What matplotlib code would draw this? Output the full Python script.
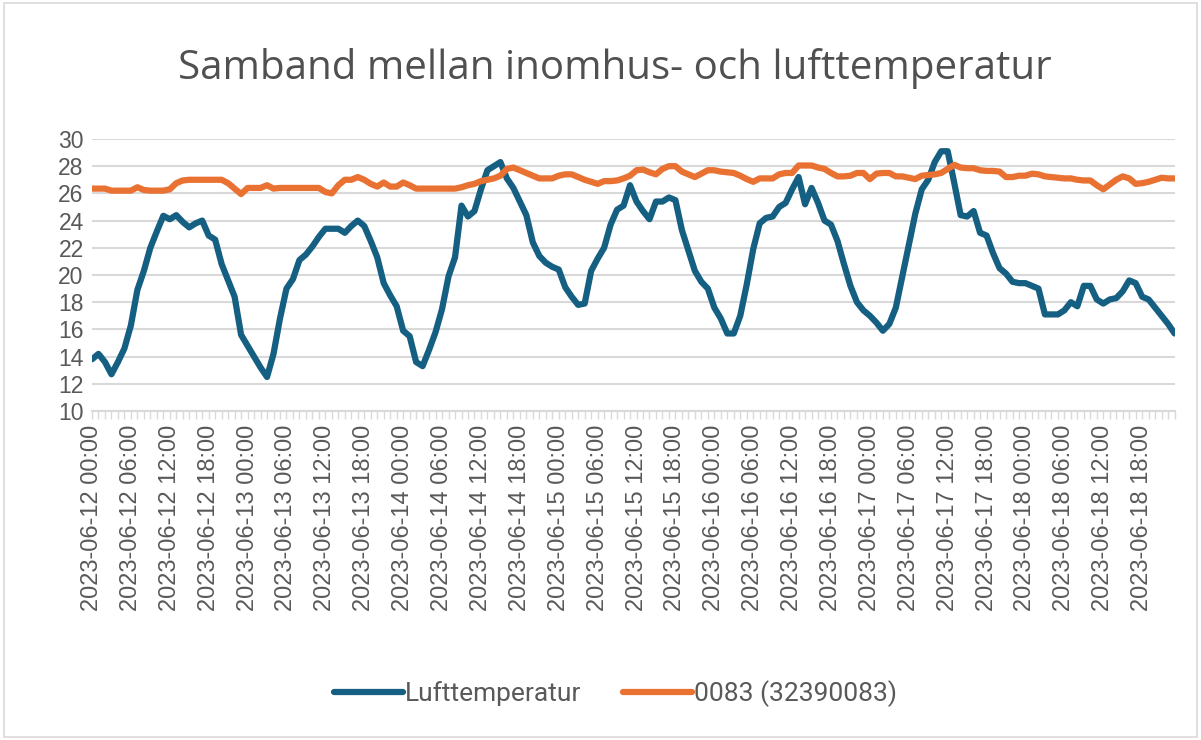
import matplotlib
matplotlib.use("Agg")
import matplotlib.pyplot as plt
import numpy as np
import pandas as pd

# timvärden 2023-06-12 00:00 -> 2023-06-18 23:00
tider = pd.date_range("2023-06-12 00:00", periods=168, freq="h")

lufttemp = [
    13.8, 14.2, 13.6, 12.7, 13.6, 14.6, 16.3, 18.9, 20.3, 22.0, 23.2, 24.35,
    24.1, 24.4, 23.9, 23.5, 23.8, 24.0, 22.9, 22.6, 20.8, 19.6, 18.4, 15.6,
    14.8, 14.0, 13.2, 12.5, 14.2, 16.8, 19.0, 19.7, 21.1, 21.5, 22.1, 22.8,
    23.4, 23.4, 23.4, 23.1, 23.6, 24.0, 23.6, 22.5, 21.3, 19.4, 18.5, 17.7,
    15.9, 15.5, 13.6, 13.3, 14.5, 15.8, 17.5, 19.9, 21.3, 25.1, 24.3, 24.7,
    26.3, 27.7, 28.0, 28.3, 27.1, 26.4, 25.4, 24.4, 22.4, 21.4, 20.9, 20.6,
    20.4, 19.1, 18.4, 17.8, 17.9, 20.3, 21.2, 22.0, 23.7, 24.8, 25.1, 26.6,
    25.4, 24.7, 24.1, 25.4, 25.4, 25.7, 25.5, 23.3, 21.8, 20.3, 19.5, 19.0,
    17.6, 16.8, 15.7, 15.7, 17.0, 19.3, 21.9, 23.8, 24.2, 24.3, 25.0, 25.3,
    26.3, 27.2, 25.2, 26.4, 25.3, 24.0, 23.7, 22.5, 20.8, 19.2, 18.0, 17.4,
    17.0, 16.5, 15.9, 16.4, 17.6, 19.9, 22.2, 24.5, 26.3, 27.0, 28.3, 29.1,
    29.1, 26.8, 24.4, 24.3, 24.7, 23.1, 22.9, 21.6, 20.5, 20.1, 19.5, 19.4,
    19.4, 19.2, 19.0, 17.1, 17.1, 17.1, 17.4, 18.0, 17.7, 19.2, 19.2, 18.2,
    17.9, 18.2, 18.3, 18.8, 19.6, 19.4, 18.4, 18.2, 17.6, 17.0, 16.4, 15.7,
]

inomhus = [
    26.35, 26.35, 26.35, 26.2, 26.2, 26.2, 26.2, 26.45, 26.25, 26.2, 26.2, 26.2,
    26.3, 26.75, 26.95, 27.0, 27.0, 27.0, 27.0, 27.0, 27.0, 26.75, 26.35, 25.95,
    26.4, 26.4, 26.4, 26.6, 26.35, 26.4, 26.4, 26.4, 26.4, 26.4, 26.4, 26.4,
    26.1, 26.0, 26.6, 27.0, 27.0, 27.2, 27.0, 26.7, 26.5, 26.8, 26.5, 26.5,
    26.8, 26.6, 26.35, 26.35, 26.35, 26.35, 26.35, 26.35, 26.35, 26.45, 26.6, 26.7,
    26.9, 27.0, 27.1, 27.3, 27.8, 27.9, 27.7, 27.5, 27.3, 27.1, 27.1, 27.1,
    27.3, 27.4, 27.4, 27.2, 27.0, 26.85, 26.7, 26.9, 26.9, 26.95, 27.1, 27.3,
    27.7, 27.75, 27.55, 27.4, 27.8, 28.0, 28.0, 27.6, 27.4, 27.2, 27.45, 27.7,
    27.7, 27.6, 27.55, 27.5, 27.3, 27.05, 26.85, 27.1, 27.1, 27.1, 27.4, 27.5,
    27.5, 28.05, 28.05, 28.05, 27.9, 27.8, 27.5, 27.25, 27.25, 27.3, 27.5, 27.5,
    27.05, 27.45, 27.5, 27.5, 27.25, 27.25, 27.15, 27.05, 27.3, 27.35, 27.4, 27.5,
    27.8, 28.1, 27.9, 27.85, 27.85, 27.7, 27.65, 27.65, 27.6, 27.2, 27.2, 27.3,
    27.3, 27.45, 27.4, 27.25, 27.2, 27.15, 27.1, 27.1, 27.0, 26.95, 26.95, 26.6,
    26.3, 26.65, 27.0, 27.25, 27.1, 26.7, 26.75, 26.85, 27.0, 27.15, 27.1, 27.1,
]

yticks = [10, 12, 14, 16, 18, 20, 22, 24, 26, 28, 30]

blue = "#156082"
orange = "#E97132"
textfarg = "#595959"
gridfarg = "#D9D9D9"

plt.rcParams["font.family"] = ["Liberation Sans", "DejaVu Sans"]

fig = plt.figure(figsize=(12.01, 7.40), dpi=100)
ax = fig.add_axes([0.0766, 0.4446, 0.9014, 0.3676])

x = np.arange(len(tider))
ax.plot(x, lufttemp, color=blue, lw=4.5, solid_joinstyle="round", solid_capstyle="round",
        label="Lufttemperatur", zorder=3)
ax.plot(x, inomhus, color=orange, lw=4.5, solid_joinstyle="round", solid_capstyle="round",
        label="0083 (32390083)", zorder=3)

ax.set_ylim(10, 30)
ax.set_yticks(yticks)
ax.set_xlim(0, len(tider) - 1)

# en etikett var sjätte timme
lab_pos = x[::6]
ax.set_xticks(lab_pos)
ax.set_xticklabels([t.strftime("%Y-%m-%d %H:%M") for t in tider[::6]],
                   rotation=90, fontsize=17, color=textfarg)
ax.set_xticks(x, minor=True)
ax.tick_params(axis="x", which="both", length=6, width=1, color=gridfarg, pad=4)
ax.tick_params(axis="y", length=0, labelsize=16.5, labelcolor=textfarg, pad=6)

ax.grid(axis="y", color=gridfarg, lw=1.5, zorder=0)
for s in ["top", "right", "left"]:
    ax.spines[s].set_visible(False)
ax.spines["bottom"].set_color(gridfarg)
ax.spines["bottom"].set_linewidth(1.5)
ax.set_axisbelow(True)

fig.suptitle("Samband mellan inomhus- och lufttemperatur", x=0.512, y=0.935,
             fontsize=29, color="#505050", family=["Open Sans", "DejaVu Sans"])

fig.legend(loc="center", bbox_to_anchor=(0.5125, 0.063), ncol=2, frameon=False,
           handlelength=2.6, handletextpad=0.08, columnspacing=1.6,
           labelcolor=textfarg, prop={"family": ["Roboto", "DejaVu Sans"], "size": 19})

# ram runt hela diagrammet
fig.patches.append(plt.Rectangle((0.003, 0.004), 0.994, 0.992, transform=fig.transFigure,
                                 fill=False, edgecolor=gridfarg, lw=1.2))

fig.savefig("out.png", dpi=100)
